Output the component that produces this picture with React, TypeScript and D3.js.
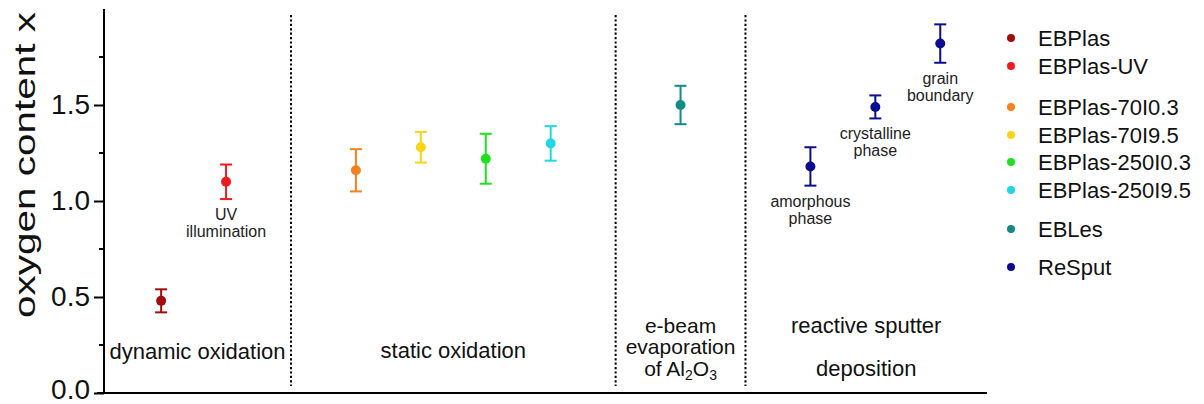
import React, { useEffect, useRef } from 'react';
import * as d3 from 'd3';

// one point per measurement, x is the slot along the category axis
const slots = [1, 2, 4, 5, 6, 7, 9, 11, 12, 13];
const oxygen = [0.48, 1.10, 1.16, 1.28, 1.22, 1.30, 1.50, 1.18, 1.49, 1.82];
const errors = [0.06, 0.09, 0.11, 0.08, 0.13, 0.09, 0.10, 0.10, 0.06, 0.10];
const pointColors = ['#a30d0d', '#ec1c1c', '#f5821f', '#f7d417', '#1fe01f', '#1fd8e6', '#138a86', '#0c0c8f', '#0c0c8f', '#0c0c8f'];

const legendNames = ['EBPlas', 'EBPlas-UV', 'EBPlas-70I0.3', 'EBPlas-70I9.5', 'EBPlas-250I0.3', 'EBPlas-250I9.5', 'EBLes', 'ReSput'];
const legendColors = ['#a30d0d', '#ec1c1c', '#f5821f', '#f7d417', '#1fe01f', '#1fd8e6', '#138a86', '#0c0c8f'];
const legendRows = [38, 66, 107, 135, 162, 190, 229, 267];

const dividers = [3, 8, 10];
const yTicks = [0, 0.5, 1.0, 1.5];
const yMinor = [0.25, 0.75, 1.25, 1.75];

// small notes under some points: slot, value they hang below, lines
const notes = [
  { slot: 2, value: 1.10, lines: ['UV', 'illumination'] },
  { slot: 11, value: 1.18, lines: ['amorphous', 'phase'] },
  { slot: 12, value: 1.49, lines: ['crystalline', 'phase'] },
  { slot: 13, value: 1.82, lines: ['grain', 'boundary'] },
];

export default function App() {
  const ref = useRef<SVGSVGElement>(null);

  useEffect(() => {
    const svg = d3.select(ref.current);
    svg.selectAll('*').remove();
    const font = 'Liberation Sans, Arial, sans-serif';

    const x = d3.scaleLinear().domain([0.12, 13.72]).range([104, 987]);
    const y = d3.scaleLinear().domain([0, 2.0]).range([393, 9]);

    // group separators
    svg.selectAll('line.div')
      .data(dividers)
      .enter().append('line')
      .attr('class', 'div')
      .attr('x1', d => x(d)).attr('x2', d => x(d))
      .attr('y1', 15).attr('y2', 386)
      .attr('stroke', '#000')
      .attr('stroke-width', 2)
      .attr('stroke-dasharray', '2.2,2.2');

    // axes
    const yAxis = d3.axisLeft(y).tickValues(yTicks).tickFormat(d3.format('.1f')).tickSize(10).tickPadding(4);
    const gy = svg.append('g').attr('transform', `translate(${x(0.12)},0)`).call(yAxis);
    gy.select('.domain').remove();
    gy.selectAll('line').attr('stroke', '#000').attr('stroke-width', 2);
    gy.selectAll('text').attr('font-family', font).attr('font-size', 28).attr('fill', '#111');
    gy.selectAll('.tick').filter(d => d === 0).select('text').attr('dy', '0.2em');

    svg.selectAll('line.minor')
      .data(yMinor)
      .enter().append('line')
      .attr('x1', x(0.12) - 5).attr('x2', x(0.12))
      .attr('y1', d => y(d)).attr('y2', d => y(d))
      .attr('stroke', '#000').attr('stroke-width', 2);

    svg.append('line')
      .attr('x1', x(0.12)).attr('x2', x(0.12))
      .attr('y1', y(2.0)).attr('y2', y(0) + 1)
      .attr('stroke', '#000').attr('stroke-width', 2);
    svg.append('line')
      .attr('x1', x(0.12) - 7).attr('x2', x(13.72))
      .attr('y1', y(0)).attr('y2', y(0))
      .attr('stroke', '#000').attr('stroke-width', 2);

    svg.append('text')
      .attr('transform', `translate(35,${165}) rotate(-90)`)
      .attr('text-anchor', 'middle')
      .attr('font-family', font)
      .attr('font-size', 30)
      .attr('textLength', 306)
      .attr('lengthAdjust', 'spacingAndGlyphs')
      .attr('fill', '#111')
      .text('oxygen content x');

    // error bars and points
    const pts = svg.selectAll('g.pt')
      .data(slots.map((s, i) => ({ s, v: oxygen[i], e: errors[i], c: pointColors[i] })))
      .enter().append('g').attr('class', 'pt');
    pts.append('line')
      .attr('x1', d => x(d.s)).attr('x2', d => x(d.s))
      .attr('y1', d => y(d.v - d.e)).attr('y2', d => y(d.v + d.e))
      .attr('stroke', d => d.c).attr('stroke-width', 2);
    pts.append('line')
      .attr('x1', d => x(d.s) - 6).attr('x2', d => x(d.s) + 6)
      .attr('y1', d => y(d.v + d.e)).attr('y2', d => y(d.v + d.e))
      .attr('stroke', d => d.c).attr('stroke-width', 2);
    pts.append('line')
      .attr('x1', d => x(d.s) - 6).attr('x2', d => x(d.s) + 6)
      .attr('y1', d => y(d.v - d.e)).attr('y2', d => y(d.v - d.e))
      .attr('stroke', d => d.c).attr('stroke-width', 2);
    pts.append('circle')
      .attr('cx', d => x(d.s)).attr('cy', d => y(d.v))
      .attr('r', 5)
      .attr('fill', d => d.c);

    // notes under points
    notes.forEach(n => {
      const i = slots.indexOf(n.slot);
      const top = y(n.value - errors[i]);
      const t = svg.append('text')
        .attr('text-anchor', 'middle')
        .attr('font-family', font)
        .attr('font-size', 16)
        .attr('fill', '#222');
      n.lines.forEach((l, k) => {
        t.append('tspan').attr('x', x(n.slot)).attr('y', top + 21 + k * 17).text(l);
      });
    });

    // group titles
    const title = (cx: number, ys: number[], lines: string[], size = 22) => {
      lines.forEach((l, k) => {
        svg.append('text')
          .attr('x', cx).attr('y', ys[k])
          .attr('text-anchor', 'middle')
          .attr('font-family', font)
          .attr('font-size', size)
          .attr('fill', '#111')
          .text(l);
      });
    };
    title((x(0.12) + x(3)) / 2, [359], ['dynamic oxidation']);
    title((x(3) + x(8)) / 2, [358], ['static oxidation']);
    title((x(10) + x(13.72)) / 2, [333, 376], ['reactive sputter', 'deposition']);
    title((x(8) + x(10)) / 2, [333, 354], ['e-beam', 'evaporation'], 21);
    const al = svg.append('text')
      .attr('x', (x(8) + x(10)) / 2).attr('y', 376)
      .attr('text-anchor', 'middle')
      .attr('font-family', font)
      .attr('font-size', 21)
      .attr('fill', '#111');
    al.append('tspan').text('of Al');
    al.append('tspan').attr('font-size', 14).attr('dy', 4).text('2');
    al.append('tspan').attr('dy', -4).text('O');
    al.append('tspan').attr('font-size', 14).attr('dy', 4).text('3');

    // legend
    const lg = svg.selectAll('g.lg')
      .data(legendNames)
      .enter().append('g').attr('class', 'lg')
      .attr('transform', (d, i) => `translate(1011,${legendRows[i]})`);
    lg.append('circle').attr('r', 4).attr('fill', (d, i) => legendColors[i]);
    lg.append('text')
      .attr('x', 27).attr('y', 8)
      .attr('font-family', font)
      .attr('font-size', 22)
      .attr('fill', '#111')
      .text(d => d);
  }, []);

  return (
    <svg ref={ref} width={1204} height={404} style={{ position: 'absolute', left: 0, top: 0, background: '#fff' }} />
  );
}
